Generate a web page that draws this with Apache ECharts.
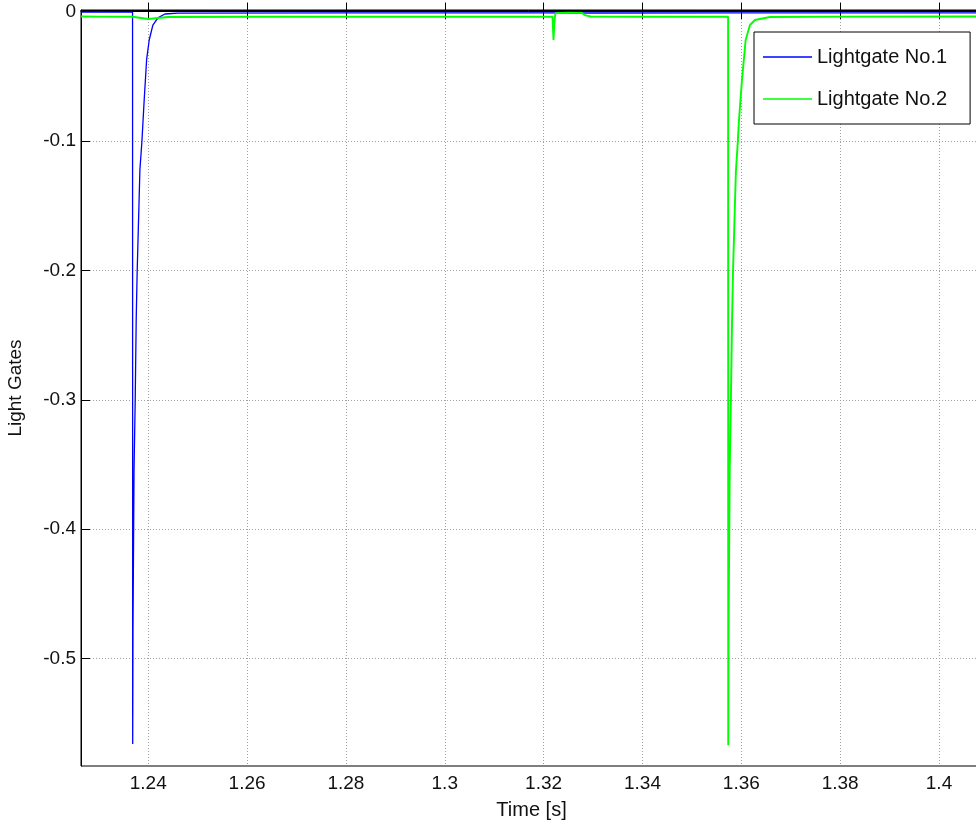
<!DOCTYPE html>
<html>
<head>
<meta charset="utf-8">
<title>Light Gates</title>
<script src="https://cdn.jsdelivr.net/npm/echarts@6/dist/echarts.min.js"></script>
<style>
  html, body { margin: 0; padding: 0; background: #fff; }
  #chart { width: 976px; height: 827px; }
</style>
</head>
<body>
<div id="chart"></div>
<script>
// Axis ranges and tick positions
const timeRange = [1.2264, 1.4087];
const levelRange = [-0.583, 0.0012];
const timeTicks = [1.24, 1.26, 1.28, 1.30, 1.32, 1.34, 1.36, 1.38, 1.40];
const levelTicks = [0, -0.1, -0.2, -0.3, -0.4, -0.5];

// Lightgate No.1 : [time s, signal]
const gate1 = [
  [1.2264, -0.0004], [1.2300, -0.0003], [1.2340, -0.0005], [1.23683, -0.0004],
  [1.23686, -0.566], [1.23692, -0.478], [1.23713, -0.354], [1.23737, -0.300],
  [1.23757, -0.238], [1.23777, -0.200], [1.23832, -0.122], [1.23873, -0.100],
  [1.23919, -0.068], [1.23968, -0.037], [1.24020, -0.022], [1.24095, -0.0104],
  [1.24196, -0.0049], [1.24338, -0.0019], [1.2460, -0.0012], [1.2800, -0.0010],
  [1.3200, -0.0010], [1.3300, -0.0011], [1.3600, -0.0010], [1.3800, -0.0010],
  [1.4087, -0.0010]
];

// Lightgate No.2 : [time s, signal]
const gate2 = [
  [1.2264, -0.0038], [1.2300, -0.0039], [1.23680, -0.0040], [1.2370, -0.0052],
  [1.2400, -0.0058], [1.2420, -0.0050], [1.2440, -0.0042], [1.2600, -0.0040],
  [1.2900, -0.0040], [1.3218, -0.0040], [1.3220, -0.0220], [1.3222, -0.0070],
  [1.3224, -0.0012], [1.3250, -0.0008], [1.3277, -0.0010], [1.3285, -0.0030],
  [1.3295, -0.0038], [1.3400, -0.0040], [1.35733, -0.0040],
  [1.35736, -0.567], [1.35742, -0.480], [1.35765, -0.355], [1.35790, -0.300],
  [1.35812, -0.240], [1.35833, -0.200], [1.35890, -0.124], [1.35930, -0.100],
  [1.35953, -0.084], [1.36013, -0.053], [1.36088, -0.022], [1.36175, -0.0104],
  [1.36276, -0.0065], [1.36580, -0.0042], [1.3800, -0.0039], [1.4087, -0.0038]
];

const seriesNames = ['Lightgate No.1', 'Lightgate No.2'];
const seriesColors = ['#0000ff', '#00ff00'];

const FONT = 'Liberation Sans, Arial, sans-serif';
const textColor = '#111';

const chart = echarts.init(document.getElementById('chart'), null, { renderer: 'canvas' });

const gridLine = { show: true, lineStyle: { color: '#a0a0a0', type: [1, 2], width: 1 } };

chart.setOption({
  animation: false,
  backgroundColor: '#fff',
  grid: {
    left: 81, right: -6, top: 10, bottom: 61,
    outerBoundsMode: 'none', containLabel: false,
    show: true, borderColor: '#000', borderWidth: 1, backgroundColor: '#fff'
  },
  legend: {
    data: seriesNames,
    orient: 'vertical',
    left: 754, top: 32,
    icon: 'rect',
    itemWidth: 49, itemHeight: 1.4,
    itemGap: 22,
    padding: [15, 23, 15, 9],
    backgroundColor: '#fff',
    borderColor: '#000', borderWidth: 1,
    textStyle: { fontFamily: FONT, fontSize: 20, color: textColor, lineHeight: 20 }
  },
  xAxis: [{
    type: 'value',
    min: timeRange[0], max: timeRange[1],
    name: 'Time [s]', nameLocation: 'middle', nameGap: 34,
    nameTextStyle: { fontFamily: FONT, fontSize: 20, color: textColor },
    axisLine: { show: true, lineStyle: { color: '#000', width: 1 } },
    axisTick: { show: true, inside: true, length: 9, customValues: timeTicks, lineStyle: { color: '#000' } },
    axisLabel: {
      customValues: timeTicks, margin: 8,
      fontFamily: FONT, fontSize: 19, color: textColor,
      formatter: v => String(+(+v).toFixed(2))
    },
    splitLine: gridLine
  }, {
    type: 'value', position: 'top',
    min: timeRange[0], max: timeRange[1],
    axisLine: { show: true, lineStyle: { color: '#000', width: 1 } },
    axisTick: { show: true, inside: true, length: 9, customValues: timeTicks, lineStyle: { color: '#000' } },
    axisLabel: { show: false },
    splitLine: { show: false }
  }],
  yAxis: {
    type: 'value',
    min: levelRange[0], max: levelRange[1],
    name: 'Light Gates', nameLocation: 'middle', nameGap: 56,
    nameTextStyle: { fontFamily: FONT, fontSize: 19, color: textColor },
    axisLine: { show: true, lineStyle: { color: '#000', width: 1 } },
    axisTick: { show: true, inside: true, length: 9, customValues: levelTicks, lineStyle: { color: '#000' } },
    axisLabel: {
      customValues: levelTicks, margin: 5,
      fontFamily: FONT, fontSize: 19, color: textColor,
      formatter: v => String(+(+v).toFixed(1))
    },
    splitLine: gridLine
  },
  series: [{
    name: seriesNames[0], type: 'line', data: gate1,
    symbol: 'none', showSymbol: false, clip: true,
    color: seriesColors[0],
    lineStyle: { color: seriesColors[0], width: 1.3 }
  }, {
    name: seriesNames[1], type: 'line', data: gate2,
    symbol: 'none', showSymbol: false, clip: true,
    color: seriesColors[1],
    lineStyle: { color: seriesColors[1], width: 1.9 }
  }]
});
</script>
</body>
</html>
